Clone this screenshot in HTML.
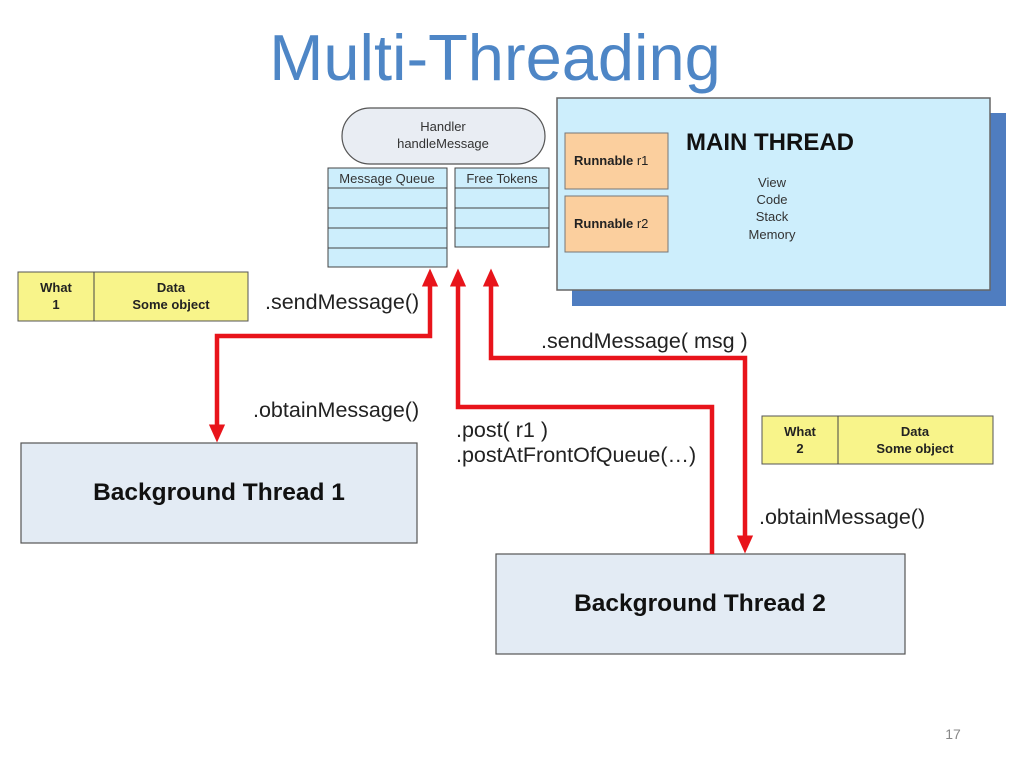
<!DOCTYPE html>
<html><head><meta charset="utf-8"><style>
html,body{margin:0;padding:0;background:#fff;}
svg{display:block;}
text{font-family:"Liberation Sans",Arial,sans-serif;}
</style></head><body>
<svg width="1024" height="768" viewBox="0 0 1024 768" xmlns="http://www.w3.org/2000/svg">
<defs>
<marker id="ah" markerWidth="4" markerHeight="4" refX="1" refY="2" orient="auto-start-reverse" markerUnits="strokeWidth">
<path d="M0,0.2 L4,2 L0,3.8 Z" fill="#e8141b"/></marker>
</defs>
<rect width="1024" height="768" fill="#fff"/>
<text x="495" y="80" text-anchor="middle" font-size="65" fill="#4e86c6">Multi-Threading</text>

<!-- main thread -->
<rect x="572" y="113" width="434" height="193" fill="#4f7dc0"/>
<rect x="557" y="98" width="433" height="192" fill="#cdeefc" stroke="#666" stroke-width="1.5"/>
<rect x="565" y="133" width="103" height="56" fill="#fbcf9e" stroke="#777"/>
<rect x="565" y="196" width="103" height="56" fill="#fbcf9e" stroke="#777"/>
<text x="574" y="165" font-size="13" font-weight="bold" fill="#222">Runnable <tspan font-weight="normal">r1</tspan></text>
<text x="574" y="228" font-size="13" font-weight="bold" fill="#222">Runnable <tspan font-weight="normal">r2</tspan></text>
<text x="686" y="150" font-size="24" font-weight="bold" fill="#111">MAIN THREAD</text>
<g font-size="13" fill="#333" text-anchor="middle">
<text x="772" y="187">View</text><text x="772" y="204">Code</text>
<text x="772" y="221">Stack</text><text x="772" y="239">Memory</text></g>

<!-- handler -->
<rect x="342" y="108" width="203" height="56" rx="28" fill="#e9edf3" stroke="#555" stroke-width="1.2"/>
<text x="443" y="131" font-size="13" text-anchor="middle" fill="#333">Handler</text>
<text x="443" y="148" font-size="13" text-anchor="middle" fill="#333">handleMessage</text>

<!-- queue -->
<g fill="#cdeefc" stroke="#444" stroke-width="1">
<rect x="328" y="168" width="119" height="20"/><rect x="328" y="188" width="119" height="20"/>
<rect x="328" y="208" width="119" height="20"/><rect x="328" y="228" width="119" height="20"/>
<rect x="328" y="248" width="119" height="19"/>
<rect x="455" y="168" width="94" height="20"/><rect x="455" y="188" width="94" height="20"/>
<rect x="455" y="208" width="94" height="20"/><rect x="455" y="228" width="94" height="19"/>
</g>
<text x="387" y="183" font-size="13" text-anchor="middle" fill="#333">Message Queue</text>
<text x="502" y="183" font-size="13" text-anchor="middle" fill="#333">Free Tokens</text>

<!-- what boxes -->
<rect x="18" y="272" width="230" height="49" fill="#f8f48a" stroke="#555"/>
<line x1="94" y1="272" x2="94" y2="321" stroke="#444"/>
<g font-size="13" font-weight="bold" fill="#222" text-anchor="middle">
<text x="56" y="292">What</text><text x="56" y="309">1</text>
<text x="171" y="292">Data</text><text x="171" y="309">Some object</text></g>
<rect x="762" y="416" width="231" height="48" fill="#f8f48a" stroke="#555"/>
<line x1="838" y1="416" x2="838" y2="464" stroke="#444"/>
<g font-size="13" font-weight="bold" fill="#222" text-anchor="middle">
<text x="800" y="436">What</text><text x="800" y="453">2</text>
<text x="915" y="436">Data</text><text x="915" y="453">Some object</text></g>

<!-- bg threads -->
<rect x="21" y="443" width="396" height="100" fill="#e3ebf4" stroke="#555" stroke-width="1.2"/>
<text x="219" y="500" font-size="24.5" font-weight="bold" text-anchor="middle" fill="#111">Background Thread 1</text>
<rect x="496" y="554" width="409" height="100" fill="#e3ebf4" stroke="#555" stroke-width="1.2"/>
<text x="700" y="611" font-size="24.5" font-weight="bold" text-anchor="middle" fill="#111">Background Thread 2</text>

<!-- arrows -->
<g fill="none" stroke="#e8141b" stroke-width="4.5">
<path d="M217,429 V336 H430 V282" marker-start="url(#ah)" marker-end="url(#ah)"/>
<path d="M712,554 V407 H458 V282" marker-end="url(#ah)"/>
<path d="M491,282 V358 H745 V540" marker-start="url(#ah)" marker-end="url(#ah)"/>
</g>

<g font-size="21.5" fill="#222">
<text x="265" y="309">.sendMessage()</text>
<text x="253" y="417">.obtainMessage()</text>
<text x="456" y="437">.post( r1 )</text>
<text x="456" y="462">.postAtFrontOfQueue(…)</text>
<text x="541" y="348">.sendMessage( msg )</text>
<text x="759" y="524">.obtainMessage()</text>
</g>
<text x="953" y="739" font-size="14" text-anchor="middle" fill="#888">17</text>
</svg>
</body></html>
